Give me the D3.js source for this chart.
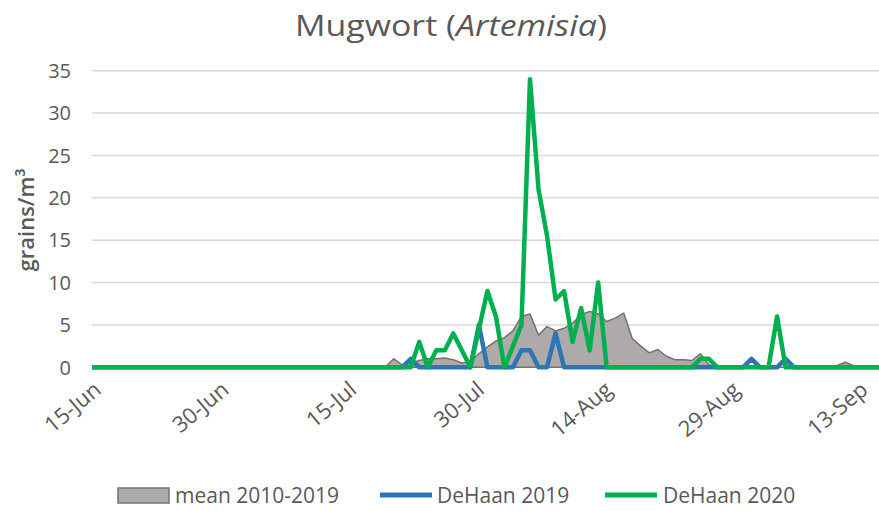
<!DOCTYPE html>
<html>
<head>
<meta charset="utf-8">
<script src="https://cdn.jsdelivr.net/npm/d3@7"></script>
<style>
  body { margin: 0; background: #fff; }
  text { font-family: "Open Sans", "Noto Sans", sans-serif; fill: #595959; }
</style>
</head>
<body>
<div id="chart"></div>
<script>
// daily series, values; days outside each block are 0
const seasonStart = "2020-06-14";
const seasonEnd = "2020-09-16";

const meanFrom = "2020-07-19";
const meanValues = [0, 1.0, 0.3, 0.5, 0.8, 1.0, 1.0, 1.1, 0.9, 0.5, 0.7, 1.6, 2.4, 3.1, 3.5, 4.3,
    6.0, 6.3, 3.8, 4.8, 4.3, 4.6, 5.2, 6.2, 6.6, 6.3, 5.4, 5.8, 6.4, 3.4, 2.5, 1.7, 2.1, 1.3,
    0.9, 0.9, 0.8, 1.6, 0.3, 0, 0, 0, 0, 0, 0, 0, 0, 0, 0, 0, 0, 0, 0, 0.2, 0.6, 0.2, 0];

const dh2019From = "2020-07-21";
const dh2019Values = [0, 1, 0, 0, 0, 0, 0, 0, 0, 5, 0, 0, 0, 0, 2, 2, 0, 0, 4, 0,
    0, 0, 0, 0, 0, 0, 0, 0, 0, 0, 0, 0, 0, 0, 0, 0, 0, 0, 0, 0, 0, 1, 0, 0, 0, 1, 0];

const dh2020From = "2020-07-22";
const dh2020Values = [0, 3, 0, 2, 2, 4, 2, 0, 4.5, 9, 6, 0, 2.5, 5, 34, 21, 15.5, 8, 9, 3, 7, 2, 10, 0,
    0, 0, 0, 0, 0, 0, 0, 0, 0, 0, 1, 1, 0, 0, 0, 0, 0, 0, 0, 6, 0];

const yTicks = [0, 5, 10, 15, 20, 25, 30, 35];
const xTickDates = ["2020-06-15", "2020-06-30", "2020-07-15", "2020-07-30", "2020-08-14", "2020-08-29", "2020-09-13"];
const legendLabels = ["mean 2010-2019", "DeHaan 2019", "DeHaan 2020"];
const colors = { mean: "#aeaaaa", meanStroke: "#767171", dh2019: "#2e75b6", dh2020: "#00b050" };

const width = 879, height = 511;
const parse = d3.timeParse("%Y-%m-%d");
const format = d3.timeFormat("%-d-%b");

const days = d3.timeDay.range(parse(seasonStart), d3.timeDay.offset(parse(seasonEnd), 1));

function toSeries(from, values) {
    const first = parse(from);
    return days.map(date => {
        const i = d3.timeDay.count(first, date);
        return { date, value: (i >= 0 && i < values.length) ? values[i] : 0 };
    });
}
const meanSeries = toSeries(meanFrom, meanValues);
const dh2019Series = toSeries(dh2019From, dh2019Values);
const dh2020Series = toSeries(dh2020From, dh2020Values);

const plot = { left: 92, right: 879, top: 70.7, bottom: 367.3 };

const x = d3.scaleTime()
    .domain([parse("2020-06-15"), parse("2020-09-15")])
    .range([95.5, 879.3]);
const y = d3.scaleLinear()
    .domain([0, 35])
    .range([plot.bottom, plot.top]);

const svg = d3.select("#chart")
    .append("svg")
    .attr("width", width)
    .attr("height", height);

svg.append("rect").attr("width", width).attr("height", height).attr("fill", "#fff");

svg.append("defs").append("clipPath").attr("id", "plotClip")
    .append("rect")
    .attr("x", plot.left)
    .attr("y", 0)
    .attr("width", plot.right - plot.left)
    .attr("height", plot.bottom + 10);

// title (the source image is a bit stretched sideways)
const title = svg.append("text")
    .attr("transform", "translate(451,36) scale(1.13,1)")
    .attr("text-anchor", "middle")
    .style("font-size", "30px");
title.append("tspan").text("Mugwort (");
title.append("tspan").style("font-style", "italic").text("Artemisia");
title.append("tspan").text(")");

// gridlines
svg.append("g").selectAll("line")
    .data(yTicks.filter(d => d > 0))
    .enter().append("line")
    .attr("x1", plot.left)
    .attr("x2", plot.right)
    .attr("y1", d => y(d))
    .attr("y2", d => y(d))
    .attr("stroke", "#d9d9d9")
    .attr("stroke-width", 1.5);

// y tick labels
svg.append("g").selectAll("text")
    .data(yTicks)
    .enter().append("text")
    .attr("x", 71)
    .attr("y", d => y(d))
    .attr("dy", "0.36em")
    .attr("text-anchor", "end")
    .style("font-size", "20px")
    .text(d => d);

// y axis title
svg.append("text")
    .attr("transform", "translate(34," + ((plot.top + plot.bottom) / 2 + 1) + ") rotate(-90)")
    .attr("text-anchor", "middle")
    .style("font-size", "22px")
    .style("font-weight", "600")
    .text("grains/m³");

// x tick labels
svg.append("g").selectAll("text")
    .data(xTickDates.map(parse))
    .enter().append("text")
    .attr("transform", d => "translate(" + (x(d) + 7) + ",392) rotate(-40)")
    .attr("text-anchor", "end")
    .style("font-size", "22px")
    .text(d => format(d));

const plotG = svg.append("g").attr("clip-path", "url(#plotClip)");

const area = d3.area()
    .x(d => x(d.date))
    .y0(y(0))
    .y1(d => y(d.value));

plotG.append("path")
    .datum(meanSeries)
    .attr("d", area)
    .attr("fill", colors.mean)
    .attr("stroke", colors.meanStroke)
    .attr("stroke-width", 1.5)
    .attr("stroke-linejoin", "round");

const line = d3.line()
    .x(d => x(d.date))
    .y(d => y(d.value));

plotG.append("path")
    .datum(dh2019Series)
    .attr("d", line)
    .attr("fill", "none")
    .attr("stroke", colors.dh2019)
    .attr("stroke-width", 4.5)
    .attr("stroke-linejoin", "round");

plotG.append("path")
    .datum(dh2020Series)
    .attr("d", line)
    .attr("fill", "none")
    .attr("stroke", colors.dh2020)
    .attr("stroke-width", 4.5)
    .attr("stroke-linejoin", "round");

// legend
const legend = svg.append("g");
legend.append("rect")
    .attr("x", 118).attr("y", 488)
    .attr("width", 51).attr("height", 15)
    .attr("fill", colors.mean)
    .attr("stroke", colors.meanStroke)
    .attr("stroke-width", 1.5);
legend.append("text").attr("x", 175).attr("y", 503).style("font-size", "21px").text(legendLabels[0]);

legend.append("line")
    .attr("x1", 380).attr("x2", 432).attr("y1", 495).attr("y2", 495)
    .attr("stroke", colors.dh2019).attr("stroke-width", 5);
legend.append("text").attr("x", 437).attr("y", 503).style("font-size", "21px").text(legendLabels[1]);

legend.append("line")
    .attr("x1", 605).attr("x2", 657).attr("y1", 495).attr("y2", 495)
    .attr("stroke", colors.dh2020).attr("stroke-width", 5);
legend.append("text").attr("x", 663).attr("y", 503).style("font-size", "21px").text(legendLabels[2]);
</script>
</body>
</html>
